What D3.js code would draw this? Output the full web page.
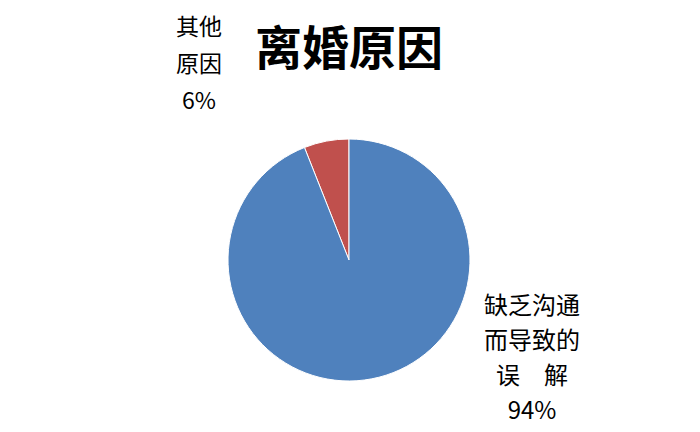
<!DOCTYPE html>
<html>
<head>
<meta charset="utf-8">
<script src="https://cdn.jsdelivr.net/npm/d3@7"></script>
<style>
  body { margin: 0; background: #fff; }
  svg { display: block; }
</style>
</head>
<body>
<script>
var categories = ['缺乏沟通而导致的误解', '其他原因'];
var values = [94, 6];
var colors = ['#4F81BD', '#C0504D'];
var labelLines = [['缺乏沟通', '而导致的', '误　解', '94%'], ['其他', '原因', '6%']];

var width = 700, height = 432;
var cx = 349, cy = 260, radius = 121;

var svg = d3.select('body').append('svg')
  .attr('width', width)
  .attr('height', height);

svg.append('text')
  .attr('x', 349)
  .attr('y', 65)
  .attr('text-anchor', 'middle')
  .style('font-family', '"Noto Sans CJK SC", sans-serif')
  .style('font-weight', 'bold')
  .style('font-size', '47px')
  .text('离婚原因');

// the small slice starts at 12 o'clock and goes counter-clockwise, so draw it reversed
var pie = d3.pie().sort(null).value(function (d) { return d; })
  .startAngle(2 * Math.PI).endAngle(0);
var arc = d3.arc().innerRadius(0).outerRadius(radius);

var g = svg.append('g').attr('transform', 'translate(' + cx + ',' + cy + ')');
g.selectAll('path')
  .data(pie(values.slice().reverse()))
  .enter().append('path')
  .attr('d', arc)
  .attr('fill', function (d, i) { return colors.slice().reverse()[i]; })
  .attr('stroke', '#fff')
  .attr('stroke-width', 1);

// label positions (outside the pie, as in the original)
var labelPos = [{ x: 532, y: 314, size: 24, step: 35 }, { x: 199, y: 35, size: 23, step: 37 }];
labelLines.forEach(function (lines, k) {
  var p = labelPos[k];
  var t = svg.append('text')
    .attr('text-anchor', 'middle')
    .style('font-family', '"Noto Sans CJK SC", sans-serif')
    .style('font-size', p.size + 'px')
    .attr('fill', '#000');
  lines.forEach(function (line, j) {
    t.append('tspan')
      .attr('x', p.x)
      .attr('y', p.y + j * p.step)
      .text(line);
  });
});
</script>
</body>
</html>
